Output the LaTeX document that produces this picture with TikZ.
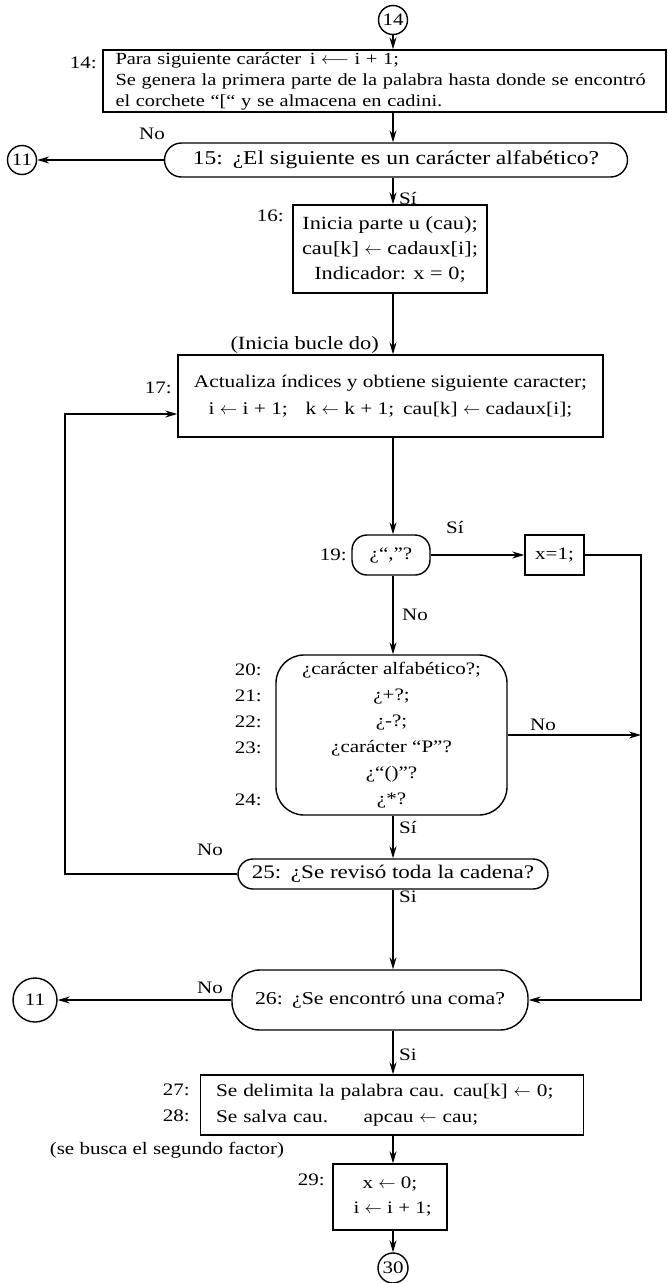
\documentclass[tikz,border=0pt]{standalone}
\usepackage{fontspec}
\setmainfont{Liberation Serif}[FakeStretch=1.2]
\usetikzlibrary{arrows.meta}
\newcommand{\asig}{$\leftarrow$}

\begin{document}
\begin{tikzpicture}[x=1pt,y=-1pt,font=\fontsize{17.5}{21}\selectfont,
    caja/.style={draw,line width=1.4pt,inner sep=0pt,align=center},
    redonda/.style={caja,rounded corners=16pt},
    conector/.style={draw,circle,line width=1.4pt,inner sep=0pt,minimum size=29pt},
    flecha/.style={-{Stealth[length=12pt,width=7pt]},line width=1.3pt},
    etiq/.style={inner sep=0pt}]
            \useasboundingbox (0,0) rectangle (668,1283);
            % conectores de pagina
            \node (c14) at (393,20) [conector] {14};
            \node (c11a) at (22,160) [conector] {11};
            \node (c11b) at (35,1000) [conector,minimum size=44pt] {11};
            \node (c30) at (393,1268) [conector,minimum size=30pt] {30};
            % cajas
            \node (b14) at (384.5,81) [caja,minimum width=563pt,minimum height=62pt,text width=538pt,align=left,font=\fontsize{17}{21}\selectfont] {Para siguiente carácter\enspace i $\longleftarrow$ i + 1;\\Se genera la primera parte de la palabra hasta donde se encontró\\el corchete “[“ y se almacena en cadini.};
            \node (b15) at (396,160) [redonda,minimum width=463pt,minimum height=34pt,rounded corners=17pt,font=\fontsize{19.6}{21}\selectfont] {15:\enspace ¿El siguiente es un carácter alfabético?};
            \node (b16) at (390,249) [caja,minimum width=194pt,minimum height=88pt,font=\fontsize{18.6}{25}\selectfont] {Inicia parte u (cau);\\cau[k] \asig\ cadaux[i];\\Indicador: x = 0;};
            \node (b17) at (390.5,396) [caja,minimum width=425pt,minimum height=82pt,font=\fontsize{17.8}{27}\selectfont] {Actualiza índices y obtiene siguiente caracter;\\i \asig\ i + 1;\quad k \asig\ k + 1;\enspace cau[k] \asig\ cadaux[i];};
            \node (b19) at (391,555) [redonda,minimum width=78pt,minimum height=40pt,rounded corners=15pt] {¿“,”?};
            \node (xa) at (554.5,555) [caja,minimum width=59pt,minimum height=40pt] {x=1;};
            \node (b20) at (391.5,735) [redonda,minimum width=231pt,minimum height=160pt,rounded corners=28pt,font=\fontsize{17.5}{26}\selectfont] {¿carácter alfabético?;\\¿+?;\\¿-?;\\¿carácter “P”?\\¿“()”?\\¿*?};
            \node (b25) at (393,874) [redonda,minimum width=310pt,minimum height=30pt,rounded corners=15pt,font=\fontsize{19.2}{21}\selectfont] {25:\enspace ¿Se revisó toda la cadena?};
            \node (b26) at (380,1000) [redonda,minimum width=296pt,minimum height=60pt,rounded corners=28pt,font=\fontsize{18.2}{21}\selectfont] {26:\enspace ¿Se encontró una coma?};
            \node (b27) at (392,1105) [caja,minimum width=383pt,minimum height=60pt,text width=352pt,align=left,font=\fontsize{17.8}{26}\selectfont] {Se delimita la palabra cau.\enspace cau[k] \asig\ 0;\\Se salva cau.\qquad apcau \asig\ cau;};
            \node (b29) at (390,1197) [caja,minimum width=114pt,minimum height=66pt,font=\fontsize{17.5}{25}\selectfont] {x \asig\ 0;\\\ i \asig\ i + 1;};
            % numeros de linea
            \node (l14) at (97,63) [etiq,anchor=east] {14:};
            \node (l16) at (284,216) [etiq,anchor=east] {16:};
            \node (l17) at (172,388) [etiq,anchor=east] {17:};
            \node (l19) at (347,555) [etiq,anchor=east] {19:};
            \foreach \n/\y in {20/670,21/696,22/722,23/748,24/800}
                \node (l\n) at (262,\y) [etiq,anchor=east] {\n:};
            \node (l27) at (190,1090) [etiq,anchor=east] {27:};
            \node (l28) at (190,1116) [etiq,anchor=east] {28:};
            \node (l29) at (325,1180) [etiq,anchor=east] {29:};
            % notas
            \node (nb) at (379,345) [etiq,anchor=east,font=\fontsize{18.7}{21}\selectfont] {(Inicia bucle do)};
            \node (ns) at (167,1150) [etiq] {(se busca el segundo factor)};
            % puntos de quiebre
            \coordinate (rc) at (641,1000);
            \coordinate (lp) at (65,414);
            % flechas
            \draw[flecha] (c14) -- (c14 |- b14.north);
            \draw[flecha] (b14.south -| c14) -- (b15.north -| c14);
            \draw[flecha] (b15.west) -- (c11a.east);
            \draw[flecha] (b15.south -| c14) -- (b16.north -| c14);
            \draw[flecha] (b16.south -| c14) -- (b17.north -| c14);
            \draw[flecha] (b17.south -| c14) -- (b19.north -| c14);
            \draw[flecha] (b19) -- (xa);
            \draw[flecha] (xa.east) -| (rc) -- (b26.east);
            \draw[flecha] (b19.south -| c14) -- (b20.north -| c14);
            \draw[flecha] (b20.east) -- (b20.east -| rc);
            \draw[flecha] (b20.south -| c14) -- (b25.north -| c14);
            \draw[flecha] (b25.west) -| (lp) -- (lp -| b17.west);
            \draw[flecha] (b25.south -| c14) -- (b26.north -| c14);
            \draw[flecha] (b26.west) -- (c11b.east);
            \draw[flecha] (b26.south -| c14) -- (b27.north -| c14);
            \draw[flecha] (b27.south -| c14) -- (b29.north -| c14);
            \draw[flecha] (b29.south -| c14) -- (c30.north);
            % etiquetas Si / No
            \node (s15) at (399,198) [etiq,anchor=west] {Sí};
            \node (n15) at (152,134) [etiq] {No};
            \node (s19) at (455,527) [etiq] {Sí};
            \node (n19) at (402,615) [etiq,anchor=west] {No};
            \node (n20) at (543,731) [etiq,anchor=south] {No};
            \node (s20) at (399,827) [etiq,anchor=west] {Sí};
            \node (n25) at (210,850) [etiq] {No};
            \node (s25) at (399,897) [etiq,anchor=west] {Si};
            \node (n26) at (210,988) [etiq] {No};
            \node (s26) at (399,1055) [etiq,anchor=west] {Si};
        \end{tikzpicture}
\end{document}
